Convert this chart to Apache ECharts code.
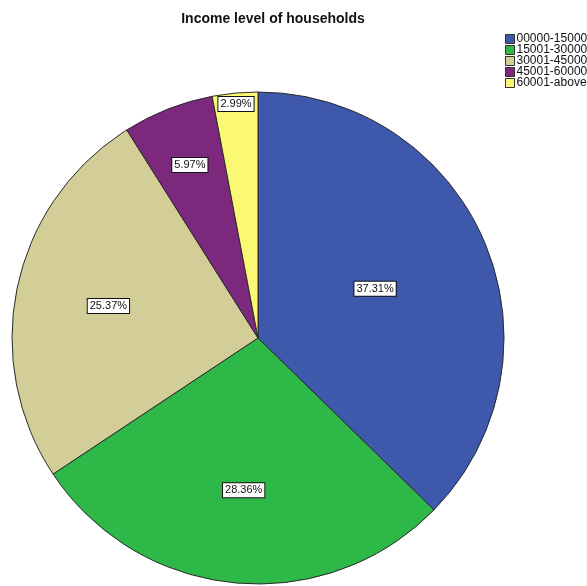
<!DOCTYPE html>
<html><head><meta charset="utf-8">
<script src="https://cdn.jsdelivr.net/npm/echarts@6/dist/echarts.min.js"></script>
<style>html,body{margin:0;padding:0;background:#fff}#c{width:587px;height:586px}</style>
</head><body><div id="c"></div>
<script>
const categories = ['00000-15000','15001-30000','30001-45000','45001-60000','60001-above'];
const counts = [25, 19, 17, 4, 2];
const colors = ['#3E58AC','#2EB848','#D3CE97','#7B287D','#FBF873'];
// label distance from centre (px) per slice, as in the reference
const labelDist = [124, 150, 150, 183, 232];

const total = counts.reduce((a,b)=>a+b,0);
const center = [258, 338];
const R = 246;

const baseData = categories.map((n,i)=>({name:n, value:counts[i], itemStyle:{color:colors[i]}}));

const series = [{
  type:'pie', center:center, radius:[0,R], startAngle:90, clockwise:true,
  silent:true, animation:false,
  itemStyle:{borderColor:'#2a2a2a', borderWidth:1},
  label:{show:false}, labelLine:{show:false},
  data: baseData
}];
categories.forEach((n,k)=>{
  series.push({
    type:'pie', center:center, radius:[0, 2*labelDist[k]], startAngle:90, clockwise:true,
    silent:true, animation:false, legendHoverLink:false,
    itemStyle:{color:'rgba(0,0,0,0)', borderWidth:0},
    labelLine:{show:false},
    data: categories.map((nn,i)=>({
      name:nn, value:counts[i],
      label:{show:i===k, position:'inside',
        formatter: ()=> (counts[i]/total*100).toFixed(2)+'%',
        color:'#111', fontFamily:'Arial, Liberation Sans, sans-serif', fontSize:11,
        backgroundColor:'#fff', borderColor:'#111', borderWidth:1, padding:[2,2,1,2]}
    }))
  });
});

const chart = echarts.init(document.getElementById('c'), null, {renderer:'canvas'});
chart.setOption({
  backgroundColor:'#fff',
  animation:false,
  color: colors,
  title:{text:'Income level of households', left:268, top:7, textAlign:'center',
    textStyle:{fontFamily:'Arial, Liberation Sans, sans-serif', fontSize:14, fontWeight:'bold', color:'#111'}},
  legend:{orient:'vertical', left:505, top:33, padding:0, itemWidth:9, itemHeight:9, itemGap:-1,
    icon:'rect', selectedMode:false,
    itemStyle:{borderColor:'#333', borderWidth:1},
    textStyle:{fontFamily:'Arial, Liberation Sans, sans-serif', fontSize:12, color:'#111', padding:[0,0,0,-3]},
    data: categories},
  series: series
});
</script></body></html>
